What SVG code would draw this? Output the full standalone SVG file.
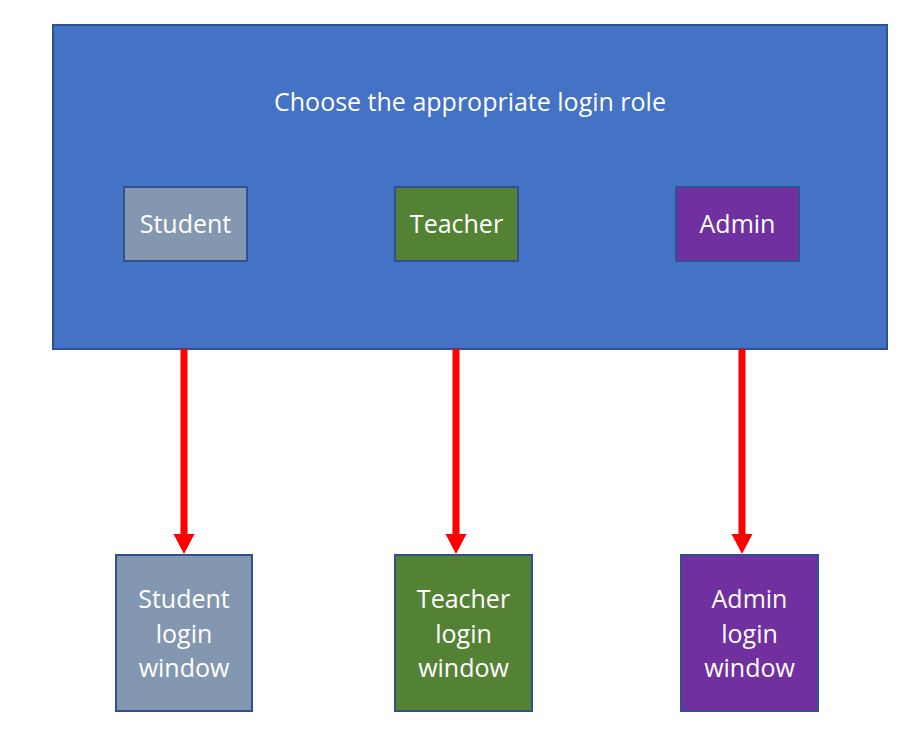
<svg xmlns="http://www.w3.org/2000/svg" width="923" height="749" viewBox="0 0 923 749">
<style>
.t{font-family:"Open Sans","Liberation Sans",sans-serif;font-size:25px;fill:#fff;text-anchor:middle}
.b{stroke:#2F528F;stroke-width:2}
.c{stroke:#FF0000;stroke-width:7;fill:none}
.h{fill:#FF0000}
</style>
<rect width="923" height="749" fill="#fff"/>
<g id="main">
<rect class="b" x="53" y="25" width="834" height="324" fill="#4472C4"/>
<text class="t" x="470" y="111">Choose the appropriate login role</text>
</g>
<g id="student">
<rect class="b" x="124" y="187" width="123" height="74" fill="#8497B0"/>
<text class="t" x="185.5" y="233">Student</text>
</g>
<g id="teacher">
<rect class="b" x="395" y="187" width="123" height="74" fill="#548235"/>
<text class="t" x="456.5" y="233">Teacher</text>
</g>
<g id="admin">
<rect class="b" x="676" y="187" width="123" height="74" fill="#7030A0"/>
<text class="t" x="737.5" y="233">Admin</text>
</g>
<g id="connectors">
<line class="c" x1="184" y1="349" x2="184" y2="536"/>
<path class="h" d="M173.5,534 L194.5,534 L184,554 Z"/>
<line class="c" x1="456" y1="349" x2="456" y2="536"/>
<path class="h" d="M445.5,534 L466.5,534 L456,554 Z"/>
<line class="c" x1="742" y1="349" x2="742" y2="536"/>
<path class="h" d="M731.5,534 L752.5,534 L742,554 Z"/>
</g>
<g id="student-login">
<rect class="b" x="116" y="555" width="136" height="156" fill="#8497B0"/>
<text class="t" x="184" y="608">Student</text>
<text class="t" x="184" y="643">login</text>
<text class="t" x="184" y="677">window</text>
</g>
<g id="teacher-login">
<rect class="b" x="395" y="555" width="137" height="156" fill="#548235"/>
<text class="t" x="463.5" y="608">Teacher</text>
<text class="t" x="463.5" y="643">login</text>
<text class="t" x="463.5" y="677">window</text>
</g>
<g id="admin-login">
<rect class="b" x="681" y="555" width="137" height="156" fill="#7030A0"/>
<text class="t" x="749.5" y="608">Admin</text>
<text class="t" x="749.5" y="643">login</text>
<text class="t" x="749.5" y="677">window</text>
</g>
</svg>
